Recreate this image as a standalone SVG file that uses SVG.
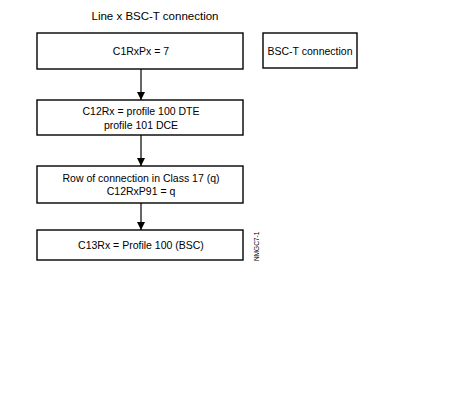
<svg xmlns="http://www.w3.org/2000/svg" width="468" height="408" viewBox="0 0 468 408">
<defs>
<style>
.box{fill:#fff;stroke:#000;stroke-width:1.4}
.t{font-family:"Liberation Sans",Arial,sans-serif;font-size:10.5px;fill:#000;text-anchor:middle}
.c{stroke:#000;stroke-width:1.2;fill:none}
</style>
<marker id="ah" viewBox="0 0 8 10" refX="8" refY="5" markerWidth="8" markerHeight="10" markerUnits="userSpaceOnUse" orient="auto">
<path d="M0,1 L8,5 L0,9 Z" fill="#000"/>
</marker>
</defs>
<rect width="468" height="408" fill="#fff"/>
<text class="t" x="155" y="20" style="font-size:11.5px">Line x  BSC-T connection</text>
<g id="n1"><rect class="box" x="37" y="33" width="206" height="36"/><text class="t" x="141" y="55">C1RxPx = 7</text></g>
<g id="n5"><rect class="box" x="263" y="33" width="94" height="35"/><text class="t" x="310" y="55">BSC-T connection</text></g>
<g id="n2"><rect class="box" x="37" y="100" width="206" height="35"/><text class="t" x="141" y="115">C12Rx = profile 100 DTE</text><text class="t" x="141" y="129">profile 101 DCE</text></g>
<g id="n3"><rect class="box" x="37" y="166" width="206" height="37"/><text class="t" x="141" y="182">Row of connection in Class 17 (q)</text><text class="t" x="141" y="195">C12RxP91 = q</text></g>
<g id="n4"><rect class="box" x="37" y="230" width="206" height="30"/><text class="t" x="141" y="249">C13Rx = Profile 100 (BSC)</text></g>
<g id="connectors">
<line class="c" x1="141" y1="69" x2="141" y2="100" marker-end="url(#ah)"/>
<line class="c" x1="141" y1="135" x2="141" y2="166" marker-end="url(#ah)"/>
<line class="c" x1="141" y1="203" x2="141" y2="230" marker-end="url(#ah)"/>
</g>
<text x="259" y="261" transform="rotate(-90 259 261)" style="font-family:'Liberation Sans',Arial,sans-serif;font-size:6.5px">NMGC7-1</text>
</svg>
